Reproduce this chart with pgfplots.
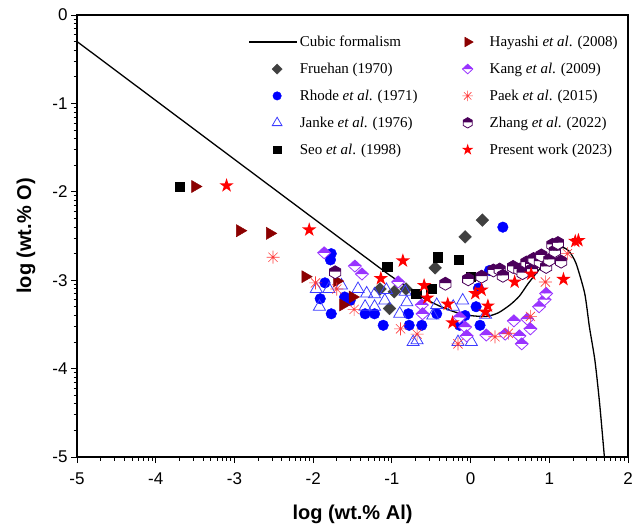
\documentclass[border=0pt]{standalone}
\usepackage{fontspec}
\setmainfont{Liberation Serif}
\setsansfont{Liberation Sans}
\usepackage{pgfplots}
\pgfplotsset{compat=1.18}
\usetikzlibrary{plotmarks}
\definecolor{kangc}{RGB}{153,51,255}
\definecolor{zhangc}{RGB}{75,0,90}
\definecolor{paekc}{RGB}{255,60,60}
\definecolor{hayc}{RGB}{139,0,0}
\definecolor{fruc}{RGB}{64,64,64}
\definecolor{jankec}{RGB}{60,60,255}
\pgfdeclareplotmark{kangd}{%
  \pgfsetlinewidth{0.8pt}%
  \pgfsetfillcolor{white}%
  \pgfpathmoveto{\pgfqpoint{-6.5pt}{0pt}}\pgfpathlineto{\pgfqpoint{0pt}{-6pt}}\pgfpathlineto{\pgfqpoint{6.5pt}{0pt}}\pgfpathclose
  \pgfusepathqfill
  \pgfsetfillcolor{kangc}%
  \pgfpathmoveto{\pgfqpoint{-6.5pt}{0pt}}\pgfpathlineto{\pgfqpoint{0pt}{6pt}}\pgfpathlineto{\pgfqpoint{6.5pt}{0pt}}\pgfpathclose
  \pgfusepathqfill
  \pgfsetstrokecolor{kangc}%
  \pgfpathmoveto{\pgfqpoint{-6.5pt}{0pt}}\pgfpathlineto{\pgfqpoint{0pt}{6pt}}\pgfpathlineto{\pgfqpoint{6.5pt}{0pt}}\pgfpathlineto{\pgfqpoint{0pt}{-6pt}}\pgfpathclose
  \pgfusepathqstroke
}
\pgfdeclareplotmark{zhangh}{%
  \pgfsetlinewidth{0.8pt}%
  \pgfsetfillcolor{white}%
  \pgfpathmoveto{\pgfqpoint{-5.6pt}{0.5pt}}\pgfpathlineto{\pgfqpoint{-5.6pt}{-3.25pt}}\pgfpathlineto{\pgfqpoint{0pt}{-6.5pt}}\pgfpathlineto{\pgfqpoint{5.6pt}{-3.25pt}}\pgfpathlineto{\pgfqpoint{5.6pt}{0.5pt}}\pgfpathclose
  \pgfusepathqfill
  \pgfsetfillcolor{zhangc}%
  \pgfpathmoveto{\pgfqpoint{-5.6pt}{0.5pt}}\pgfpathlineto{\pgfqpoint{-5.6pt}{3.25pt}}\pgfpathlineto{\pgfqpoint{0pt}{6.5pt}}\pgfpathlineto{\pgfqpoint{5.6pt}{3.25pt}}\pgfpathlineto{\pgfqpoint{5.6pt}{0.5pt}}\pgfpathclose
  \pgfusepathqfill
  \pgfsetstrokecolor{zhangc}%
  \pgfpathmoveto{\pgfqpoint{0pt}{6.5pt}}\pgfpathlineto{\pgfqpoint{-5.6pt}{3.25pt}}\pgfpathlineto{\pgfqpoint{-5.6pt}{-3.25pt}}\pgfpathlineto{\pgfqpoint{0pt}{-6.5pt}}\pgfpathlineto{\pgfqpoint{5.6pt}{-3.25pt}}\pgfpathlineto{\pgfqpoint{5.6pt}{3.25pt}}\pgfpathclose
  \pgfusepathqstroke
}
\pgfdeclareplotmark{paeka}{%
  \pgfsetlinewidth{0.6pt}%
  \pgfsetstrokecolor{paekc}%
  \pgfpathmoveto{\pgfqpoint{-6.5pt}{0pt}}\pgfpathlineto{\pgfqpoint{6.5pt}{0pt}}
  \pgfpathmoveto{\pgfqpoint{0pt}{-6.5pt}}\pgfpathlineto{\pgfqpoint{0pt}{6.5pt}}
  \pgfpathmoveto{\pgfqpoint{-4.6pt}{-4.6pt}}\pgfpathlineto{\pgfqpoint{4.6pt}{4.6pt}}
  \pgfpathmoveto{\pgfqpoint{-4.6pt}{4.6pt}}\pgfpathlineto{\pgfqpoint{4.6pt}{-4.6pt}}
  \pgfusepathqstroke
}
\pgfdeclareplotmark{redstar}{%
  \pgfsetfillcolor{red}%
  \pgfpathmoveto{\pgfqpoint{0pt}{7.5pt}}
  \pgfpathlineto{\pgfqpoint{1.684pt}{2.318pt}}
  \pgfpathlineto{\pgfqpoint{7.133pt}{2.318pt}}
  \pgfpathlineto{\pgfqpoint{2.725pt}{-0.885pt}}
  \pgfpathlineto{\pgfqpoint{4.408pt}{-6.068pt}}
  \pgfpathlineto{\pgfqpoint{0pt}{-2.865pt}}
  \pgfpathlineto{\pgfqpoint{-4.408pt}{-6.068pt}}
  \pgfpathlineto{\pgfqpoint{-2.725pt}{-0.885pt}}
  \pgfpathlineto{\pgfqpoint{-7.133pt}{2.318pt}}
  \pgfpathlineto{\pgfqpoint{-1.684pt}{2.318pt}}
  \pgfpathclose
  \pgfusepathqfill
}
\pgfplotsset{
  mk/.style={only marks,
    legend image code/.code={\path[draw=none,fill=none] (0pt,-1pt) rectangle (48pt,1pt);
      \draw[mark repeat=2,mark phase=2,##1, every mark/.append style={scale=0.8}] plot coordinates {(0pt,0pt)(28pt,0pt)(56pt,0pt)};}},
  cubicleg/.style={legend image code/.code={\draw[##1] (0pt,0pt) -- (48pt,0pt);}},
}
\begin{document}
\begin{tikzpicture}
\begin{axis}[
  scale only axis, width=551pt, height=442pt,
  xmin=-5, xmax=2, ymin=-5, ymax=0,
  xtick={-5,-4,-3,-2,-1,0,1,2}, ytick={-5,-4,-3,-2,-1,0},
  minor xtick={-4.699,-4.523,-4.398,-4.301,-4.222,-4.155,-4.097,-4.046,
    -3.699,-3.523,-3.398,-3.301,-3.222,-3.155,-3.097,-3.046,
    -2.699,-2.523,-2.398,-2.301,-2.222,-2.155,-2.097,-2.046,
    -1.699,-1.523,-1.398,-1.301,-1.222,-1.155,-1.097,-1.046,
    -0.699,-0.523,-0.398,-0.301,-0.222,-0.155,-0.097,-0.046,
    0.301,0.477,0.602,0.699,0.778,0.845,0.903,0.954,
    1.301,1.477,1.602,1.699,1.778,1.845,1.903,1.954},
  minor ytick={-4.699,-4.523,-4.398,-4.301,-4.222,-4.155,-4.097,-4.046,
    -3.699,-3.523,-3.398,-3.301,-3.222,-3.155,-3.097,-3.046,
    -2.699,-2.523,-2.398,-2.301,-2.222,-2.155,-2.097,-2.046,
    -1.699,-1.523,-1.398,-1.301,-1.222,-1.155,-1.097,-1.046,
    -0.699,-0.523,-0.398,-0.301,-0.222,-0.155,-0.097,-0.046},
  tick align=outside, xtick pos=bottom, ytick pos=left,
  major tick length=6pt, minor tick length=3.5pt,
  every tick/.style={black, line width=0.9pt},
  axis line style={line width=1.1pt},
  /pgf/number format/assume math mode=true,
  ticklabel style={font=\sffamily\fontsize{17}{17}\selectfont},
  xticklabel style={yshift=-6pt},
  xlabel={log (wt.\% Al)}, ylabel={log (wt.\% O)},
  label style={font=\sffamily\bfseries\fontsize{20}{20}\selectfont},
  xlabel shift=14pt, ylabel shift=10pt,
  legend style={at={(0.9905,0.962)}, anchor=north east, draw=none, fill=none,
    font=\fontsize{15}{17}\selectfont, row sep=11pt,
    /tikz/column 2/.style={column sep=20pt}},
  legend cell align=left, legend columns=5, transpose legend,
]
\addplot[black, line width=1.3pt, smooth, tension=0.4, cubicleg] coordinates {
(-5,-0.30) (-3,-1.633) (-1.2,-2.83) (-1.0,-2.96) (-0.8,-3.08) (-0.6,-3.20) (-0.4,-3.29) (-0.2,-3.36) (0.0,-3.40) (0.2,-3.41) (0.35,-3.37) (0.5,-3.28) (0.62,-3.18) (0.73,-3.04) (0.88,-2.87) (1.0,-2.74) (1.1,-2.66) (1.17,-2.63) (1.25,-2.67) (1.34,-2.81) (1.45,-3.15) (1.51,-3.53) (1.58,-3.91) (1.64,-4.4) (1.70,-5.0)};
\addlegendentry{Cubic formalism}
\addplot[mk, mark=square*, mark size=4.5pt, mark options={rotate=45, fill=fruc, draw=fruc}] coordinates {
(0.15,-2.32) (-0.07,-2.51) (-0.45,-2.86) (-0.82,-3.10) (-0.97,-3.13) (-1.03,-3.32) (-1.15,-3.10)};
\addlegendentry{Fruehan (1970)}
\addplot[mk, mark=*, mark size=5.3pt, mark options={fill=blue, draw=blue}] coordinates {
(-1.77,-2.70) (-1.78,-2.77) (-1.85,-3.03) (-1.91,-3.21) (-1.77,-3.38) (-1.60,-3.19) (-1.53,-3.23) (-1.34,-3.38) (-1.22,-3.38) (-1.11,-3.51) (-0.79,-3.38) (-0.78,-3.51) (-0.62,-3.51) (-0.43,-3.38) (-0.14,-3.51) (-0.07,-3.40) (0.07,-3.30) (0.12,-3.51) (0.10,-3.09) (0.24,-2.89) (0.41,-2.40)};
\addlegendentry{Rhode \textit{et al}. (1971)}
\addplot[mk, mark=triangle, mark size=7pt, mark options={draw=jankec, fill=none, line width=0.8pt}] coordinates {
(-1.96,-3.10) (-1.92,-3.30) (-1.80,-3.10) (-1.64,-3.06) (-1.43,-3.10) (-1.32,-3.15) (-1.22,-3.16) (-1.34,-3.30) (-1.22,-3.30) (-1.09,-3.23) (-1.07,-3.11) (-0.90,-3.38) (-0.83,-3.13) (-0.81,-3.25) (-0.73,-3.70) (-0.68,-3.68) (-0.48,-3.40) (-0.43,-3.28) (-0.22,-3.30) (-0.10,-3.23) (-0.16,-3.70) (0.01,-3.70) (0.19,-3.39)};
\addlegendentry{Janke \textit{et al}. (1976)}
\addplot[mk, mark=square*, mark size=4.6pt, mark options={fill=black, draw=black}] coordinates {
(-3.70,-1.94) (-1.06,-2.85) (-0.69,-3.15) (-0.50,-3.10) (-0.42,-2.74) (-0.15,-2.77) (0.0,-2.96)};
\addlegendentry{Seo \textit{et al}. (1998)}
\addplot[mk, mark=triangle*, mark size=7pt, mark options={rotate=-90, fill=hayc, draw=hayc}] coordinates {
(-3.50,-1.94) (-2.93,-2.44) (-2.55,-2.47) (-2.10,-2.96) (-1.70,-3.01) (-1.62,-3.28) (-1.50,-3.19)};
\addlegendentry{Hayashi \textit{et al}. (2008)}
\addplot[mk, mark=kangd] coordinates {
(-1.86,-2.69) (-1.47,-2.84) (-1.38,-2.93) (-0.92,-3.02) (-0.62,-3.28) (-0.61,-3.38) (-0.14,-3.42) (-0.07,-3.53) (-0.05,-3.63) (0.20,-3.62) (0.44,-3.61) (0.55,-3.46) (0.62,-3.63) (0.65,-3.72) (0.72,-3.44) (0.76,-3.55) (0.87,-3.30) (0.94,-3.22) (0.96,-3.15)};
\addlegendentry{Kang \textit{et al}. (2009)}
\addplot[mk, mark=paeka] coordinates {
(-2.51,-2.74) (-1.97,-3.03) (-1.70,-3.10) (-1.48,-3.33) (-0.89,-3.55) (-0.68,-3.61) (-0.16,-3.72) (0.31,-3.64) (0.48,-3.60) (0.76,-3.41) (0.95,-3.02) (1.23,-2.70)};
\addlegendentry{Paek \textit{et al}. (2015)}
\addplot[mk, mark=zhangh] coordinates {
(-1.72,-2.91) (-0.32,-3.04) (-0.03,-2.99) (0.14,-2.96) (0.29,-2.89) (0.37,-2.88) (0.41,-2.95) (0.54,-2.85) (0.62,-2.88) (0.66,-2.92) (0.71,-2.80) (0.77,-2.82) (0.78,-2.88) (0.80,-2.76) (0.88,-2.79) (0.90,-2.72) (0.96,-2.85) (1.00,-2.77) (1.04,-2.60) (1.07,-2.67) (1.11,-2.58) (1.15,-2.79)};
\addlegendentry{Zhang \textit{et al}. (2022)}
\addplot[mk, mark=redstar] coordinates {
(-3.10,-1.93) (-2.05,-2.43) (-1.14,-2.98) (-0.86,-2.78) (-0.59,-3.06) (-0.55,-3.20) (-0.29,-3.27) (-0.23,-3.48) (0.06,-3.15) (0.14,-3.11) (0.22,-3.29) (0.19,-3.36) (0.56,-3.02) (0.77,-2.93) (1.18,-2.99) (1.33,-2.56) (1.37,-2.55)};
\addlegendentry{Present work (2023)}
\end{axis}
\path (current axis.south west) ++(-77pt,-72pt) coordinate (bbA);
\path (current axis.north east) ++(13pt,15pt) coordinate (bbB);
\path (bbA) rectangle (bbB);
\end{tikzpicture}
\end{document}
